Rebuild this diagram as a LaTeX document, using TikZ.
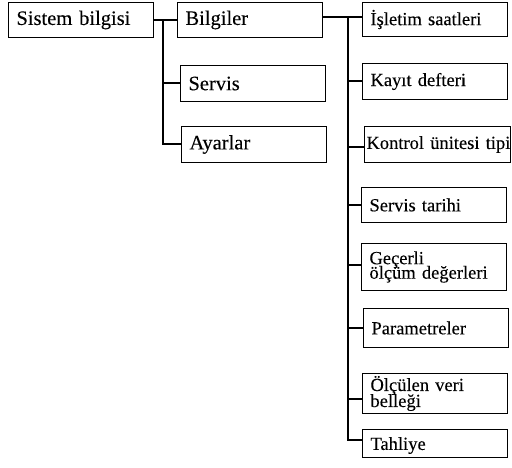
\documentclass[tikz,border=0pt]{standalone}
\usepackage{fontspec}
\setmainfont{Liberation Serif}[FakeBold=0.15]
\newcommand\twolines[3]{\vbox{\baselineskip=#1\relax\lineskiplimit=-30pt\relax\lineskip=0pt\relax\hbox{#2}\hbox{#3}}}
\begin{document}
\begin{tikzpicture}[x=1pt,y=-1pt,
  box/.style={draw, line width=1pt, anchor=north west, inner xsep=8pt, inner ysep=0pt, text width=129pt, align=left},
  big/.style={font=\fontsize{20.5}{22}\selectfont},
  small/.style={font=\fontsize{18.5}{20}\selectfont},
  conn/.style={line width=2pt}]
\useasboundingbox (0,0) rectangle (512,468);
% level 1
\node[box,big,minimum height=35pt] (sys) at (8,2) {Sistem bilgisi};
% level 2
\node[box,big,minimum height=35pt] (bil) at (177,2) {Bilgiler};
\node[box,big,minimum height=36pt] (ser) at (180,65) {Servis};
\node[box,big,minimum height=36pt] (aya) at (181,126) {Ayarlar};
% level 3
\node[box,small,minimum height=34pt] (isl) at (362,2) {İşletim saatleri};
\node[box,small,minimum height=36pt] (kay) at (362,63) {Kayıt defteri};
\node[box,small,minimum height=36pt,inner xsep=2pt,text width=142pt] (kon) at (364,126) {\mbox{Kontrol ünitesi tipi}};
\node[box,small,minimum height=35pt] (sta) at (361,187) {Servis tarihi};
\node[box,small,minimum height=47pt] (gec) at (361,243) {\twolines{14.5pt}{Geçerli}{ölçüm değerleri}};
\node[box,small,minimum height=39pt] (par) at (363,308) {Parametreler};
\node[box,small,minimum height=40pt] (olc) at (362,373) {\twolines{16pt}{Ölçülen veri}{belleği}};
\node[box,small,minimum height=28pt,text depth=0pt] (tah) at (362,429) {Tahliye};
% connectors
\coordinate (j1) at (163,19.5);
\draw[conn] (sys.east) -- (bil.west);
\draw[conn] (j1) |- (ser.west);
\draw[conn] (j1) |- (aya.west);
\coordinate (j2) at (348,17);
\draw[conn] (bil.east |- j2) -- (isl.west |- j2);
\draw[conn] (j2) |- (kay.west);
\draw[conn] (j2) |- ([yshift=-3pt]kon.west);
\draw[conn] (j2) |- (sta.west);
\draw[conn] (j2) |- ([yshift=2pt]gec.west);
\draw[conn] (j2) |- (par.west);
\draw[conn] (j2) |- ([yshift=-5pt]olc.west);
\draw[conn] (j2) |- ([yshift=4pt]tah.west);
\end{tikzpicture}
\end{document}
